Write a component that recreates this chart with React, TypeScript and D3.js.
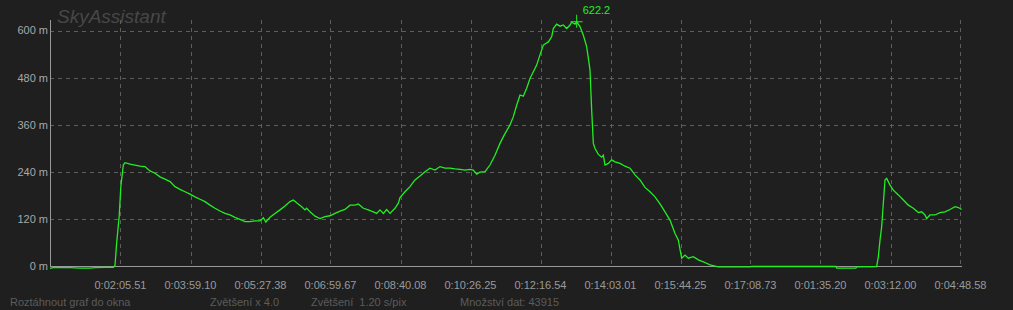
import React from "react";
import * as d3 from "d3";

// elapsed time (s) and altitude (m)
const times = [0, 5, 12, 24, 36, 48, 54, 66, 76, 78, 80, 83, 85, 88, 90, 96, 102, 108, 114, 120, 126, 132, 138, 144, 150, 156, 162, 168, 174, 180, 186, 192, 198, 204, 210, 216, 222, 228, 234, 240, 246, 252, 256, 259, 264, 270, 276, 282, 288, 292, 296, 302, 306, 308, 312, 318, 324, 330, 336, 342, 348, 354, 360, 366, 370, 376, 382, 388, 392, 396, 400, 404, 408, 414, 418, 420, 426, 432, 438, 444, 450, 456, 462, 468, 474, 480, 486, 492, 498, 504, 508, 512, 516, 522, 528, 534, 540, 545, 552, 556, 560, 564, 568, 572, 576, 580, 584, 588, 592, 598, 602, 604, 608, 612, 616, 620, 624, 626, 630, 632, 636, 640, 644, 648, 650, 652, 654, 658, 662, 664, 666, 670, 674, 678, 684, 690, 696, 702, 708, 714, 720, 726, 732, 738, 744, 750, 754, 758, 762, 766, 772, 778, 784, 792, 798, 802, 840, 842, 943, 944, 967, 968, 992, 994, 996, 998, 1000, 1002, 1004, 1008, 1012, 1018, 1024, 1030, 1036, 1042, 1046, 1050, 1052, 1056, 1062, 1068, 1074, 1080, 1086, 1090, 1094];
const altitudes = [-5, -2, -3, -3, -4, -4, -3, -2, -2, 3, 60, 127, 203, 258, 264, 260, 258, 255, 254, 243, 237, 228, 222, 216, 203, 196, 190, 184, 177, 171, 165, 156, 148, 141, 135, 131, 125, 120, 114, 114, 116, 116, 124, 113, 125, 135, 144, 154, 165, 169, 162, 152, 144, 148, 139, 128, 122, 127, 129, 135, 141, 145, 156, 156, 159, 148, 144, 139, 135, 144, 135, 145, 135, 148, 161, 175, 190, 203, 220, 230, 241, 250, 245, 254, 250, 250, 248, 247, 245, 247, 245, 235, 240, 241, 258, 283, 313, 334, 360, 381, 410, 436, 433, 453, 478, 495, 512, 538, 563, 571, 584, 605, 616, 611, 614, 605, 614, 621, 616, 622.2, 610, 588, 559, 500, 398, 313, 300, 285, 278, 283, 258, 262, 271, 266, 262, 255, 250, 233, 220, 201, 190, 177, 159, 139, 118, 84, 67, 21, 29, 21, 25, 17, 12, 4, 1, -1, -1, 0, 0, -4, -4, -1, 0, 25, 67, 101, 161, 220, 224, 207, 194, 182, 169, 156, 148, 137, 139, 131, 122, 131, 131, 137, 139, 145, 152, 150, 145];

const xTickTimes = [84.6, 168.6, 252.6, 336.6, 420.6, 504.6, 588.6, 672.6, 756.6, 840.6, 924.6, 1008.6, 1092.6];
const xTickLabels = ["0:02:05.51", "0:03:59.10", "0:05:27.38", "0:06:59.67", "0:08:40.08", "0:10:26.25", "0:12:16.54", "0:14:03.01", "0:15:44.25", "0:17:08.73", "0:01:35.20", "0:03:12.00", "0:04:48.58"];
const yTicks = [0, 120, 240, 360, 480, 600];

const title = "SkyAssistant";
const statusTexts = [
  { text: "Roztáhnout graf do okna", x: 10 },
  { text: "Zvětšení x 4.0", x: 210 },
  { text: "Zvětšení  1.20 s/pix", x: 311 },
  { text: "Množství dat: 43915", x: 460 },
];

const W = 1013;
const H = 310;
const left = 50;
const right = 962;
const top = 20;

export default function App() {
  const x = d3.scaleLinear().domain([0, 1094.4]).range([left, right]);
  const y = d3.scaleLinear().domain([0, 600]).range([266.5, 30.5]);
  const pts = times.map((t, i) => [t, altitudes[i]] as [number, number]);
  const line = d3.line<[number, number]>().x((d) => x(d[0])).y((d) => y(d[1]));
  const maxIdx = d3.maxIndex(altitudes);
  const px = x(times[maxIdx]);
  const py = y(altitudes[maxIdx]);
  const font = "'Liberation Sans', Arial, sans-serif";
  const green = "#22ee22";

  return (
    <svg width={W} height={H} style={{ position: "absolute", left: 0, top: 0, display: "block" }} fontFamily={font}>
      <rect x={0} y={0} width={W} height={H} fill="#1f1f1f" />
      <text x={57} y={23} fontSize={19} fontStyle="italic" fill="#474747">{title}</text>
      {yTicks.filter((v) => v > 0).map((v) => (
        <line key={"gy" + v} x1={left} x2={right} y1={Math.round(y(v)) + 0.5} y2={Math.round(y(v)) + 0.5} stroke="#5e5e5e" strokeDasharray="4,4" />
      ))}
      {xTickTimes.map((t, i) => (
        <line key={"gx" + i} x1={Math.round(x(t)) + 0.5} x2={Math.round(x(t)) + 0.5} y1={top} y2={266} stroke="#5e5e5e" strokeDasharray="4,4" />
      ))}
      <line x1={left + 0.5} x2={left + 0.5} y1={top} y2={267} stroke="#9a9a9a" />
      <line x1={left} x2={right} y1={266.5} y2={266.5} stroke="#9a9a9a" />
      {yTicks.map((v) => (
        <text key={"ly" + v} x={48} y={y(v)} dy="0.35em" textAnchor="end" fontSize={11} fill="#a8a8a8">{v} m</text>
      ))}
      {xTickTimes.map((t, i) => (
        <text key={"lx" + i} x={x(t)} y={289} textAnchor="middle" fontSize={11} fill="#9a9a9a">{xTickLabels[i]}</text>
      ))}
      <path d={line(pts) || ""} fill="none" stroke={green} strokeWidth={1.3} />
      <line x1={px - 6} x2={px + 6} y1={py} y2={py} stroke={green} strokeWidth={1} />
      <line x1={px} x2={px} y1={py - 7} y2={py + 6} stroke={green} strokeWidth={1} />
      <text x={px + 6} y={14} fontSize={11} fill={green}>{altitudes[maxIdx].toFixed(1)}</text>
      {statusTexts.map((s) => (
        <text key={s.text} x={s.x} y={306} fontSize={11} fill="#5c5c5c" style={{ whiteSpace: "pre" }}>{s.text}</text>
      ))}
    </svg>
  );
}
